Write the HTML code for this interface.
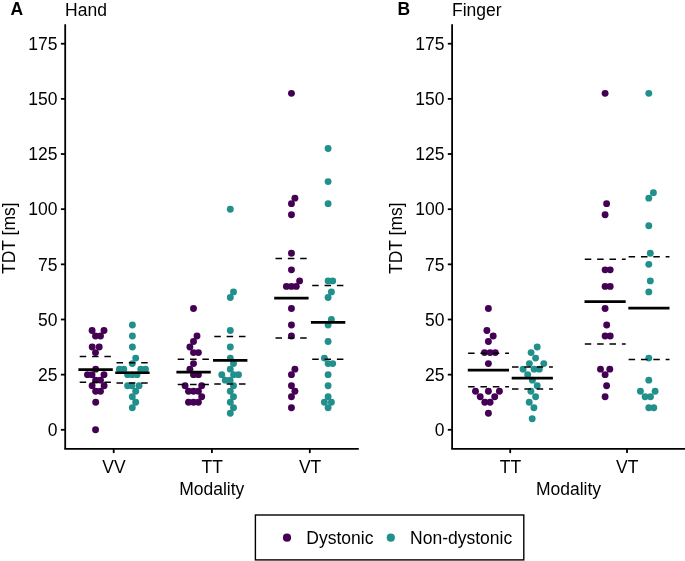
<!DOCTYPE html>
<html><head><meta charset="utf-8"><style>
html,body{margin:0;padding:0;background:#fff;}
svg{display:block;will-change:transform;}
text{font-family:"Liberation Sans",sans-serif;font-size:17.5px;fill:#000;}
</style></head><body>
<svg width="685" height="561" viewBox="0 0 685 561">
<rect width="685" height="561" fill="#fff"/>
<circle cx="92.10" cy="330.52" r="3.45" fill="#440154"/>
<circle cx="104.00" cy="330.52" r="3.45" fill="#440154"/>
<circle cx="95.50" cy="336.04" r="3.45" fill="#440154"/>
<circle cx="100.50" cy="336.04" r="3.45" fill="#440154"/>
<circle cx="92.20" cy="347.07" r="3.45" fill="#440154"/>
<circle cx="99.20" cy="347.07" r="3.45" fill="#440154"/>
<circle cx="95.50" cy="352.58" r="3.45" fill="#440154"/>
<circle cx="95.65" cy="369.13" r="3.45" fill="#440154"/>
<circle cx="87.50" cy="374.64" r="3.45" fill="#440154"/>
<circle cx="92.00" cy="374.64" r="3.45" fill="#440154"/>
<circle cx="104.00" cy="374.64" r="3.45" fill="#440154"/>
<circle cx="95.65" cy="380.16" r="3.45" fill="#440154"/>
<circle cx="100.50" cy="380.16" r="3.45" fill="#440154"/>
<circle cx="92.10" cy="385.68" r="3.45" fill="#440154"/>
<circle cx="104.10" cy="385.68" r="3.45" fill="#440154"/>
<circle cx="95.65" cy="391.19" r="3.45" fill="#440154"/>
<circle cx="100.50" cy="391.19" r="3.45" fill="#440154"/>
<circle cx="95.70" cy="402.22" r="3.45" fill="#440154"/>
<circle cx="95.55" cy="429.80" r="3.45" fill="#440154"/>
<circle cx="132.40" cy="325.01" r="3.45" fill="#21908C"/>
<circle cx="132.40" cy="336.04" r="3.45" fill="#21908C"/>
<circle cx="132.40" cy="347.07" r="3.45" fill="#21908C"/>
<circle cx="135.70" cy="358.10" r="3.45" fill="#21908C"/>
<circle cx="132.30" cy="363.61" r="3.45" fill="#21908C"/>
<circle cx="119.40" cy="369.13" r="3.45" fill="#21908C"/>
<circle cx="123.80" cy="369.13" r="3.45" fill="#21908C"/>
<circle cx="140.80" cy="369.13" r="3.45" fill="#21908C"/>
<circle cx="145.50" cy="369.13" r="3.45" fill="#21908C"/>
<circle cx="127.60" cy="374.64" r="3.45" fill="#21908C"/>
<circle cx="132.30" cy="374.64" r="3.45" fill="#21908C"/>
<circle cx="137.00" cy="374.64" r="3.45" fill="#21908C"/>
<circle cx="127.60" cy="385.68" r="3.45" fill="#21908C"/>
<circle cx="131.90" cy="385.68" r="3.45" fill="#21908C"/>
<circle cx="139.10" cy="385.68" r="3.45" fill="#21908C"/>
<circle cx="135.70" cy="391.19" r="3.45" fill="#21908C"/>
<circle cx="132.30" cy="396.71" r="3.45" fill="#21908C"/>
<circle cx="135.70" cy="402.22" r="3.45" fill="#21908C"/>
<circle cx="132.30" cy="407.74" r="3.45" fill="#21908C"/>
<circle cx="193.50" cy="308.46" r="3.45" fill="#440154"/>
<circle cx="197.00" cy="336.04" r="3.45" fill="#440154"/>
<circle cx="193.50" cy="341.55" r="3.45" fill="#440154"/>
<circle cx="189.90" cy="347.07" r="3.45" fill="#440154"/>
<circle cx="193.50" cy="352.58" r="3.45" fill="#440154"/>
<circle cx="198.40" cy="352.58" r="3.45" fill="#440154"/>
<circle cx="193.50" cy="363.61" r="3.45" fill="#440154"/>
<circle cx="189.90" cy="369.13" r="3.45" fill="#440154"/>
<circle cx="193.50" cy="374.64" r="3.45" fill="#440154"/>
<circle cx="198.40" cy="374.64" r="3.45" fill="#440154"/>
<circle cx="185.10" cy="385.68" r="3.45" fill="#440154"/>
<circle cx="201.70" cy="385.68" r="3.45" fill="#440154"/>
<circle cx="188.50" cy="391.19" r="3.45" fill="#440154"/>
<circle cx="193.50" cy="391.19" r="3.45" fill="#440154"/>
<circle cx="198.40" cy="391.19" r="3.45" fill="#440154"/>
<circle cx="201.70" cy="396.71" r="3.45" fill="#440154"/>
<circle cx="188.50" cy="402.22" r="3.45" fill="#440154"/>
<circle cx="193.50" cy="402.22" r="3.45" fill="#440154"/>
<circle cx="198.40" cy="402.22" r="3.45" fill="#440154"/>
<circle cx="230.30" cy="209.18" r="3.45" fill="#21908C"/>
<circle cx="233.50" cy="291.91" r="3.45" fill="#21908C"/>
<circle cx="230.30" cy="297.43" r="3.45" fill="#21908C"/>
<circle cx="230.30" cy="330.52" r="3.45" fill="#21908C"/>
<circle cx="230.30" cy="347.07" r="3.45" fill="#21908C"/>
<circle cx="230.30" cy="358.10" r="3.45" fill="#21908C"/>
<circle cx="233.50" cy="363.61" r="3.45" fill="#21908C"/>
<circle cx="230.30" cy="369.13" r="3.45" fill="#21908C"/>
<circle cx="221.80" cy="374.64" r="3.45" fill="#21908C"/>
<circle cx="233.60" cy="374.64" r="3.45" fill="#21908C"/>
<circle cx="238.50" cy="374.64" r="3.45" fill="#21908C"/>
<circle cx="225.30" cy="380.16" r="3.45" fill="#21908C"/>
<circle cx="230.10" cy="380.16" r="3.45" fill="#21908C"/>
<circle cx="233.50" cy="385.68" r="3.45" fill="#21908C"/>
<circle cx="230.30" cy="391.19" r="3.45" fill="#21908C"/>
<circle cx="233.50" cy="396.71" r="3.45" fill="#21908C"/>
<circle cx="230.30" cy="402.22" r="3.45" fill="#21908C"/>
<circle cx="233.50" cy="407.74" r="3.45" fill="#21908C"/>
<circle cx="230.30" cy="413.25" r="3.45" fill="#21908C"/>
<circle cx="291.45" cy="93.35" r="3.45" fill="#440154"/>
<circle cx="294.90" cy="198.15" r="3.45" fill="#440154"/>
<circle cx="291.45" cy="203.66" r="3.45" fill="#440154"/>
<circle cx="291.45" cy="214.70" r="3.45" fill="#440154"/>
<circle cx="291.45" cy="253.30" r="3.45" fill="#440154"/>
<circle cx="291.45" cy="269.85" r="3.45" fill="#440154"/>
<circle cx="299.60" cy="280.88" r="3.45" fill="#440154"/>
<circle cx="286.40" cy="286.40" r="3.45" fill="#440154"/>
<circle cx="291.45" cy="286.40" r="3.45" fill="#440154"/>
<circle cx="296.30" cy="286.40" r="3.45" fill="#440154"/>
<circle cx="291.45" cy="308.46" r="3.45" fill="#440154"/>
<circle cx="291.45" cy="325.01" r="3.45" fill="#440154"/>
<circle cx="291.45" cy="336.04" r="3.45" fill="#440154"/>
<circle cx="294.90" cy="369.13" r="3.45" fill="#440154"/>
<circle cx="291.45" cy="374.64" r="3.45" fill="#440154"/>
<circle cx="291.45" cy="385.68" r="3.45" fill="#440154"/>
<circle cx="294.90" cy="391.19" r="3.45" fill="#440154"/>
<circle cx="291.45" cy="396.71" r="3.45" fill="#440154"/>
<circle cx="291.45" cy="407.74" r="3.45" fill="#440154"/>
<circle cx="328.10" cy="148.51" r="3.45" fill="#21908C"/>
<circle cx="328.10" cy="181.60" r="3.45" fill="#21908C"/>
<circle cx="328.10" cy="203.66" r="3.45" fill="#21908C"/>
<circle cx="328.10" cy="280.88" r="3.45" fill="#21908C"/>
<circle cx="332.70" cy="280.88" r="3.45" fill="#21908C"/>
<circle cx="331.40" cy="291.91" r="3.45" fill="#21908C"/>
<circle cx="328.10" cy="297.43" r="3.45" fill="#21908C"/>
<circle cx="331.40" cy="319.49" r="3.45" fill="#21908C"/>
<circle cx="328.10" cy="325.01" r="3.45" fill="#21908C"/>
<circle cx="328.10" cy="341.55" r="3.45" fill="#21908C"/>
<circle cx="324.40" cy="358.10" r="3.45" fill="#21908C"/>
<circle cx="328.10" cy="363.61" r="3.45" fill="#21908C"/>
<circle cx="332.70" cy="363.61" r="3.45" fill="#21908C"/>
<circle cx="328.10" cy="374.64" r="3.45" fill="#21908C"/>
<circle cx="328.10" cy="385.68" r="3.45" fill="#21908C"/>
<circle cx="328.10" cy="396.71" r="3.45" fill="#21908C"/>
<circle cx="324.40" cy="402.22" r="3.45" fill="#21908C"/>
<circle cx="331.40" cy="402.22" r="3.45" fill="#21908C"/>
<circle cx="328.10" cy="407.74" r="3.45" fill="#21908C"/>
<circle cx="488.40" cy="308.46" r="3.45" fill="#440154"/>
<circle cx="486.90" cy="330.52" r="3.45" fill="#440154"/>
<circle cx="493.20" cy="336.04" r="3.45" fill="#440154"/>
<circle cx="488.40" cy="341.55" r="3.45" fill="#440154"/>
<circle cx="484.50" cy="352.58" r="3.45" fill="#440154"/>
<circle cx="490.10" cy="352.58" r="3.45" fill="#440154"/>
<circle cx="495.30" cy="352.58" r="3.45" fill="#440154"/>
<circle cx="488.40" cy="363.61" r="3.45" fill="#440154"/>
<circle cx="475.50" cy="391.19" r="3.45" fill="#440154"/>
<circle cx="488.40" cy="391.19" r="3.45" fill="#440154"/>
<circle cx="499.40" cy="391.19" r="3.45" fill="#440154"/>
<circle cx="480.20" cy="396.71" r="3.45" fill="#440154"/>
<circle cx="494.70" cy="396.71" r="3.45" fill="#440154"/>
<circle cx="484.80" cy="402.22" r="3.45" fill="#440154"/>
<circle cx="490.10" cy="402.22" r="3.45" fill="#440154"/>
<circle cx="488.40" cy="413.25" r="3.45" fill="#440154"/>
<circle cx="537.20" cy="347.07" r="3.45" fill="#21908C"/>
<circle cx="531.10" cy="352.58" r="3.45" fill="#21908C"/>
<circle cx="535.60" cy="358.10" r="3.45" fill="#21908C"/>
<circle cx="529.40" cy="363.61" r="3.45" fill="#21908C"/>
<circle cx="543.80" cy="363.61" r="3.45" fill="#21908C"/>
<circle cx="523.10" cy="369.13" r="3.45" fill="#21908C"/>
<circle cx="534.10" cy="369.13" r="3.45" fill="#21908C"/>
<circle cx="539.30" cy="369.13" r="3.45" fill="#21908C"/>
<circle cx="527.70" cy="374.64" r="3.45" fill="#21908C"/>
<circle cx="532.40" cy="380.16" r="3.45" fill="#21908C"/>
<circle cx="537.20" cy="385.68" r="3.45" fill="#21908C"/>
<circle cx="530.90" cy="391.19" r="3.45" fill="#21908C"/>
<circle cx="535.60" cy="396.71" r="3.45" fill="#21908C"/>
<circle cx="529.20" cy="402.22" r="3.45" fill="#21908C"/>
<circle cx="533.90" cy="407.74" r="3.45" fill="#21908C"/>
<circle cx="532.20" cy="418.77" r="3.45" fill="#21908C"/>
<circle cx="605.10" cy="93.35" r="3.45" fill="#440154"/>
<circle cx="606.60" cy="203.66" r="3.45" fill="#440154"/>
<circle cx="605.10" cy="214.70" r="3.45" fill="#440154"/>
<circle cx="605.10" cy="269.85" r="3.45" fill="#440154"/>
<circle cx="610.20" cy="269.85" r="3.45" fill="#440154"/>
<circle cx="605.10" cy="286.40" r="3.45" fill="#440154"/>
<circle cx="610.20" cy="286.40" r="3.45" fill="#440154"/>
<circle cx="605.10" cy="308.46" r="3.45" fill="#440154"/>
<circle cx="606.70" cy="325.01" r="3.45" fill="#440154"/>
<circle cx="605.10" cy="336.04" r="3.45" fill="#440154"/>
<circle cx="610.20" cy="336.04" r="3.45" fill="#440154"/>
<circle cx="600.50" cy="369.13" r="3.45" fill="#440154"/>
<circle cx="609.80" cy="369.13" r="3.45" fill="#440154"/>
<circle cx="605.10" cy="374.64" r="3.45" fill="#440154"/>
<circle cx="606.60" cy="385.68" r="3.45" fill="#440154"/>
<circle cx="605.10" cy="396.71" r="3.45" fill="#440154"/>
<circle cx="648.80" cy="93.35" r="3.45" fill="#21908C"/>
<circle cx="653.40" cy="192.63" r="3.45" fill="#21908C"/>
<circle cx="648.80" cy="198.15" r="3.45" fill="#21908C"/>
<circle cx="648.80" cy="225.73" r="3.45" fill="#21908C"/>
<circle cx="650.30" cy="253.30" r="3.45" fill="#21908C"/>
<circle cx="648.80" cy="264.34" r="3.45" fill="#21908C"/>
<circle cx="650.30" cy="280.88" r="3.45" fill="#21908C"/>
<circle cx="648.80" cy="291.91" r="3.45" fill="#21908C"/>
<circle cx="648.80" cy="358.10" r="3.45" fill="#21908C"/>
<circle cx="648.80" cy="380.16" r="3.45" fill="#21908C"/>
<circle cx="640.40" cy="391.19" r="3.45" fill="#21908C"/>
<circle cx="655.10" cy="391.19" r="3.45" fill="#21908C"/>
<circle cx="645.10" cy="396.71" r="3.45" fill="#21908C"/>
<circle cx="650.50" cy="396.71" r="3.45" fill="#21908C"/>
<circle cx="648.80" cy="407.74" r="3.45" fill="#21908C"/>
<circle cx="653.80" cy="407.74" r="3.45" fill="#21908C"/>
<line x1="78.40" x2="112.80" y1="369.65" y2="369.65" stroke="#000" stroke-width="2.7"/>
<line x1="79.70" x2="112.80" y1="356.4" y2="356.4" stroke="#000" stroke-width="1.5" stroke-dasharray="6.5 5.85"/>
<line x1="79.70" x2="112.80" y1="382.3" y2="382.3" stroke="#000" stroke-width="1.5" stroke-dasharray="6.5 5.85"/>
<line x1="115.20" x2="149.60" y1="372.75" y2="372.75" stroke="#000" stroke-width="2.7"/>
<line x1="116.50" x2="149.60" y1="362.7" y2="362.7" stroke="#000" stroke-width="1.5" stroke-dasharray="6.5 5.85"/>
<line x1="116.50" x2="149.60" y1="383.0" y2="383.0" stroke="#000" stroke-width="1.5" stroke-dasharray="6.5 5.85"/>
<line x1="176.40" x2="210.80" y1="372.15" y2="372.15" stroke="#000" stroke-width="2.7"/>
<line x1="177.70" x2="210.80" y1="359.3" y2="359.3" stroke="#000" stroke-width="1.5" stroke-dasharray="6.5 5.85"/>
<line x1="177.70" x2="210.80" y1="384.59999999999997" y2="384.59999999999997" stroke="#000" stroke-width="1.5" stroke-dasharray="6.5 5.85"/>
<line x1="213.00" x2="247.40" y1="360.45" y2="360.45" stroke="#000" stroke-width="2.7"/>
<line x1="214.30" x2="247.40" y1="336.59999999999997" y2="336.59999999999997" stroke="#000" stroke-width="1.5" stroke-dasharray="6.5 5.85"/>
<line x1="214.30" x2="247.40" y1="384.09999999999997" y2="384.09999999999997" stroke="#000" stroke-width="1.5" stroke-dasharray="6.5 5.85"/>
<line x1="274.20" x2="308.60" y1="298.15" y2="298.15" stroke="#000" stroke-width="2.7"/>
<line x1="275.50" x2="308.60" y1="258.59999999999997" y2="258.59999999999997" stroke="#000" stroke-width="1.5" stroke-dasharray="6.5 5.85"/>
<line x1="275.50" x2="308.60" y1="338.0" y2="338.0" stroke="#000" stroke-width="1.5" stroke-dasharray="6.5 5.85"/>
<line x1="310.90" x2="345.30" y1="322.45" y2="322.45" stroke="#000" stroke-width="2.7"/>
<line x1="312.20" x2="345.30" y1="285.4" y2="285.4" stroke="#000" stroke-width="1.5" stroke-dasharray="6.5 5.85"/>
<line x1="312.20" x2="345.30" y1="359.2" y2="359.2" stroke="#000" stroke-width="1.5" stroke-dasharray="6.5 5.85"/>
<line x1="467.80" x2="509.00" y1="370.15" y2="370.15" stroke="#000" stroke-width="2.7"/>
<line x1="468.10" x2="509.00" y1="353.3" y2="353.3" stroke="#000" stroke-width="1.5" stroke-dasharray="6.5 5.85"/>
<line x1="468.10" x2="509.00" y1="386.8" y2="386.8" stroke="#000" stroke-width="1.5" stroke-dasharray="6.5 5.85"/>
<line x1="511.70" x2="552.90" y1="378.05" y2="378.05" stroke="#000" stroke-width="2.7"/>
<line x1="512.00" x2="552.90" y1="367.0" y2="367.0" stroke="#000" stroke-width="1.5" stroke-dasharray="6.5 5.85"/>
<line x1="512.00" x2="552.90" y1="389.0" y2="389.0" stroke="#000" stroke-width="1.5" stroke-dasharray="6.5 5.85"/>
<line x1="584.50" x2="625.70" y1="301.65" y2="301.65" stroke="#000" stroke-width="2.7"/>
<line x1="584.80" x2="625.70" y1="259.2" y2="259.2" stroke="#000" stroke-width="1.5" stroke-dasharray="6.5 5.85"/>
<line x1="584.80" x2="625.70" y1="344.0" y2="344.0" stroke="#000" stroke-width="1.5" stroke-dasharray="6.5 5.85"/>
<line x1="628.30" x2="669.50" y1="308.15" y2="308.15" stroke="#000" stroke-width="2.7"/>
<line x1="628.60" x2="669.50" y1="256.7" y2="256.7" stroke="#000" stroke-width="1.5" stroke-dasharray="6.5 5.85"/>
<line x1="628.60" x2="669.50" y1="359.5" y2="359.5" stroke="#000" stroke-width="1.5" stroke-dasharray="6.5 5.85"/>
<line x1="65.2" y1="24.3" x2="65.2" y2="448.8" stroke="#000" stroke-width="1.8"/>
<line x1="64.3" y1="448.8" x2="358.8" y2="448.8" stroke="#000" stroke-width="1.8"/>
<line x1="452.1" y1="24.3" x2="452.1" y2="448.8" stroke="#000" stroke-width="1.8"/>
<line x1="451.20000000000005" y1="448.8" x2="686" y2="448.8" stroke="#000" stroke-width="1.8"/>
<line x1="60.90" y1="429.80" x2="65.2" y2="429.80" stroke="#000" stroke-width="1.8"/>
<text x="57.50" y="436.07" text-anchor="end">0</text>
<line x1="60.90" y1="374.64" x2="65.2" y2="374.64" stroke="#000" stroke-width="1.8"/>
<text x="57.50" y="380.91" text-anchor="end">25</text>
<line x1="60.90" y1="319.49" x2="65.2" y2="319.49" stroke="#000" stroke-width="1.8"/>
<text x="57.50" y="325.76" text-anchor="end">50</text>
<line x1="60.90" y1="264.34" x2="65.2" y2="264.34" stroke="#000" stroke-width="1.8"/>
<text x="57.50" y="270.61" text-anchor="end">75</text>
<line x1="60.90" y1="209.18" x2="65.2" y2="209.18" stroke="#000" stroke-width="1.8"/>
<text x="57.50" y="215.45" text-anchor="end">100</text>
<line x1="60.90" y1="154.03" x2="65.2" y2="154.03" stroke="#000" stroke-width="1.8"/>
<text x="57.50" y="160.30" text-anchor="end">125</text>
<line x1="60.90" y1="98.87" x2="65.2" y2="98.87" stroke="#000" stroke-width="1.8"/>
<text x="57.50" y="105.14" text-anchor="end">150</text>
<line x1="60.90" y1="43.72" x2="65.2" y2="43.72" stroke="#000" stroke-width="1.8"/>
<text x="57.50" y="49.99" text-anchor="end">175</text>
<line x1="447.80" y1="429.80" x2="452.1" y2="429.80" stroke="#000" stroke-width="1.8"/>
<text x="444.40" y="436.07" text-anchor="end">0</text>
<line x1="447.80" y1="374.64" x2="452.1" y2="374.64" stroke="#000" stroke-width="1.8"/>
<text x="444.40" y="380.91" text-anchor="end">25</text>
<line x1="447.80" y1="319.49" x2="452.1" y2="319.49" stroke="#000" stroke-width="1.8"/>
<text x="444.40" y="325.76" text-anchor="end">50</text>
<line x1="447.80" y1="264.34" x2="452.1" y2="264.34" stroke="#000" stroke-width="1.8"/>
<text x="444.40" y="270.61" text-anchor="end">75</text>
<line x1="447.80" y1="209.18" x2="452.1" y2="209.18" stroke="#000" stroke-width="1.8"/>
<text x="444.40" y="215.45" text-anchor="end">100</text>
<line x1="447.80" y1="154.03" x2="452.1" y2="154.03" stroke="#000" stroke-width="1.8"/>
<text x="444.40" y="160.30" text-anchor="end">125</text>
<line x1="447.80" y1="98.87" x2="452.1" y2="98.87" stroke="#000" stroke-width="1.8"/>
<text x="444.40" y="105.14" text-anchor="end">150</text>
<line x1="447.80" y1="43.72" x2="452.1" y2="43.72" stroke="#000" stroke-width="1.8"/>
<text x="444.40" y="49.99" text-anchor="end">175</text>
<line x1="113.7" y1="448.8" x2="113.7" y2="453.10" stroke="#000" stroke-width="1.8"/>
<text x="114.00" y="473.1" text-anchor="middle">VV</text>
<line x1="211.9" y1="448.8" x2="211.9" y2="453.10" stroke="#000" stroke-width="1.8"/>
<text x="212.20" y="473.1" text-anchor="middle">TT</text>
<line x1="309.8" y1="448.8" x2="309.8" y2="453.10" stroke="#000" stroke-width="1.8"/>
<text x="310.10" y="473.1" text-anchor="middle">VT</text>
<line x1="510.2" y1="448.8" x2="510.2" y2="453.10" stroke="#000" stroke-width="1.8"/>
<text x="510.50" y="473.1" text-anchor="middle">TT</text>
<line x1="627.0" y1="448.8" x2="627.0" y2="453.10" stroke="#000" stroke-width="1.8"/>
<text x="627.30" y="473.1" text-anchor="middle">VT</text>
<text x="211.8" y="494.8" text-anchor="middle">Modality</text>
<text x="568.5" y="494.8" text-anchor="middle">Modality</text>
<text transform="translate(15,238.2) rotate(-90)" text-anchor="middle">TDT [ms]</text>
<text transform="translate(402,238.2) rotate(-90)" text-anchor="middle">TDT [ms]</text>
<text x="10.5" y="15.2" font-weight="bold">A</text>
<text x="397.5" y="15.2" font-weight="bold">B</text>
<text x="65.1" y="15.9">Hand</text>
<text x="452.0" y="15.9">Finger</text>
<rect x="255.4" y="515" width="268.4" height="44.9" fill="none" stroke="#000" stroke-width="1.4"/>
<circle cx="287.0" cy="537.7" r="4.1" fill="#440154"/>
<circle cx="390.8" cy="537.7" r="4.1" fill="#21908C"/>
<text x="306.3" y="543.8">Dystonic</text>
<text x="410.1" y="543.8">Non-dystonic</text>
</svg>
</body></html>
